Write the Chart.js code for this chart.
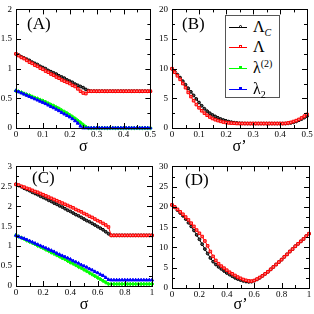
<!DOCTYPE html>
<html>
<head>
<meta charset="utf-8">
<title>Lambda vs sigma</title>
<script src="https://cdn.jsdelivr.net/npm/chart.js@4.4.1/dist/chart.umd.min.js"></script>
<style>
    html, body { margin: 0; padding: 0; background: #fff; }
    #wrap { position: relative; width: 314px; height: 314px; overflow: hidden; font-family: 'Liberation Serif', 'Times New Roman', serif; color: #000; }
    #wrap canvas { position: absolute; }
    .tag { position: absolute; font-size: 17px; line-height: 17px; }
    #legend { position: absolute; left: 225px; top: 15px; width: 53px; height: 81px; border: 1px solid #555; background: #fff; }
    .row { position: absolute; left: 0; width: 53px; height: 20px; }
    .ln { position: absolute; left: 3px; top: 10px; width: 18px; height: 1px; }
    .mk { position: absolute; left: 13px; top: 8px; width: 3px; height: 3px; box-sizing: border-box; }
    .tx { position: absolute; left: 27px; top: 0; font-size: 16px; line-height: 20px; white-space: nowrap; }
    .tx sub, .tx sup { font-size: 10px; line-height: 0; }
</style>
</head>
<body>
<div id="wrap">
    <canvas id="chartA" width="157" height="157" style="left:0;top:0"></canvas>
    <canvas id="chartB" width="157" height="157" style="left:157px;top:0"></canvas>
    <canvas id="chartC" width="157" height="157" style="left:0;top:157px"></canvas>
    <canvas id="chartD" width="157" height="157" style="left:157px;top:157px"></canvas>

    <div class="tag" style="left:27px;top:15px">(A)</div>
    <div class="tag" style="left:182px;top:15px">(B)</div>
    <div class="tag" style="left:32px;top:169px">(C)</div>
    <div class="tag" style="left:185px;top:171px">(D)</div>

    <div id="legend">
        <div class="row" style="top:1px"><span class="ln" style="background:#000"></span><span class="mk" style="border:1px solid #000;border-radius:50%;background:#fff"></span><span class="tx">Λ<sub><i>C</i></sub></span></div>
        <div class="row" style="top:21px"><span class="ln" style="background:#f00"></span><span class="mk" style="border:1px solid #f00;background:#fff"></span><span class="tx">Λ</span></div>
        <div class="row" style="top:42px"><span class="ln" style="background:#0f0"></span><span class="mk" style="background:#0f0"></span><span class="tx">λ<sup>(2)</sup></span></div>
        <div class="row" style="top:63px"><span class="ln" style="background:#00f"></span><span class="mk" style="background:#00f"></span><span class="tx">λ<sub>2</sub></span></div>
    </div>
</div>

<script>
// sigma grids
const sigmaHalf = [0, 0.01, 0.02, 0.03, 0.04, 0.05, 0.06, 0.07, 0.08, 0.09, 0.1,
    0.11, 0.12, 0.13, 0.14, 0.15, 0.16, 0.17, 0.18, 0.19, 0.2,
    0.21, 0.22, 0.23, 0.24, 0.25, 0.26, 0.27, 0.28, 0.29, 0.3,
    0.31, 0.32, 0.33, 0.34, 0.35, 0.36, 0.37, 0.38, 0.39, 0.4,
    0.41, 0.42, 0.43, 0.44, 0.45, 0.46, 0.47, 0.48, 0.49, 0.5];
const sigmaFull = [0, 0.02, 0.04, 0.06, 0.08, 0.1, 0.12, 0.14, 0.16, 0.18, 0.2,
    0.22, 0.24, 0.26, 0.28, 0.3, 0.32, 0.34, 0.36, 0.38, 0.4,
    0.42, 0.44, 0.46, 0.48, 0.5, 0.52, 0.54, 0.56, 0.58, 0.6,
    0.62, 0.64, 0.66, 0.68, 0.7, 0.72, 0.74, 0.76, 0.78, 0.8,
    0.82, 0.84, 0.86, 0.88, 0.9, 0.92, 0.94, 0.96, 0.98, 1];

// (A)
const aLambdaC = [1.25, 1.23, 1.2, 1.18, 1.16, 1.14, 1.11, 1.09, 1.07, 1.04, 1.02,
    1.0, 0.97, 0.95, 0.93, 0.91, 0.88, 0.86, 0.84, 0.81, 0.79,
    0.77, 0.74, 0.72, 0.7, 0.68, 0.65, 0.63, 0.62, 0.62, 0.62,
    0.62, 0.62, 0.62, 0.62, 0.62, 0.62, 0.62, 0.62, 0.62, 0.62,
    0.62, 0.62, 0.62, 0.62, 0.62, 0.62, 0.62, 0.62, 0.62, 0.62];
const aLambda = [1.25, 1.22, 1.19, 1.17, 1.14, 1.11, 1.09, 1.06, 1.04, 1.01, 0.99,
    0.96, 0.94, 0.91, 0.89, 0.86, 0.84, 0.81, 0.79, 0.77, 0.75,
    0.72, 0.7, 0.66, 0.62, 0.59, 0.58, 0.62, 0.62, 0.62, 0.62,
    0.62, 0.62, 0.62, 0.62, 0.62, 0.62, 0.62, 0.62, 0.62, 0.62,
    0.62, 0.62, 0.62, 0.62, 0.62, 0.62, 0.62, 0.62, 0.62, 0.62];
const aLambda2nd = [0.63, 0.615, 0.6, 0.58, 0.565, 0.55, 0.53, 0.51, 0.495, 0.475, 0.46,
    0.44, 0.415, 0.395, 0.375, 0.35, 0.33, 0.3, 0.275, 0.25, 0.22,
    0.19, 0.16, 0.125, 0.09, 0.055, 0.02, 0, 0, 0, 0,
    0, 0, 0, 0, 0, 0, 0, 0, 0, 0,
    0, 0, 0, 0, 0, 0, 0, 0, 0, 0];
const aLambdaTwo = [0.63, 0.61, 0.59, 0.57, 0.55, 0.53, 0.51, 0.49, 0.47, 0.45, 0.43,
    0.41, 0.385, 0.36, 0.34, 0.315, 0.29, 0.26, 0.235, 0.21, 0.185,
    0.155, 0.12, 0.08, 0.03, 0, 0, 0, 0, 0, 0,
    0, 0, 0, 0, 0, 0, 0, 0, 0, 0,
    0, 0, 0, 0, 0, 0, 0, 0, 0, 0];

// (B)
const bLambdaC = [10, 9.5, 9.0, 8.5, 7.9, 7.3, 6.7, 6.1, 5.5, 4.9, 4.3,
    3.75, 3.25, 2.85, 2.5, 2.2, 1.95, 1.72, 1.52, 1.35, 1.2,
    1.08, 0.98, 0.9, 0.85, 0.8, 0.78, 0.76, 0.75, 0.75, 0.75,
    0.75, 0.75, 0.75, 0.75, 0.75, 0.75, 0.75, 0.75, 0.75, 0.75,
    0.75, 0.75, 0.78, 0.85, 0.95, 1.1, 1.3, 1.5, 1.75, 2.0];
const bLambda = [10, 9.4, 8.8, 8.2, 7.5, 6.8, 6.0, 5.3, 4.6, 3.95, 3.4,
    2.9, 2.5, 2.15, 1.85, 1.6, 1.4, 1.25, 1.12, 1.0, 0.92,
    0.86, 0.82, 0.8, 0.76, 0.76, 0.76, 0.76, 0.76, 0.76, 0.76,
    0.76, 0.76, 0.76, 0.76, 0.76, 0.76, 0.76, 0.76, 0.76, 0.76,
    0.76, 0.78, 0.85, 0.95, 1.1, 1.25, 1.45, 1.7, 2.0, 2.3];

// (C)
const cLambdaC = [2.55, 2.52, 2.49, 2.45, 2.42, 2.39, 2.35, 2.32, 2.29, 2.25, 2.22,
    2.19, 2.15, 2.12, 2.08, 2.05, 2.01, 1.98, 1.94, 1.9, 1.87,
    1.83, 1.79, 1.76, 1.72, 1.68, 1.64, 1.61, 1.57, 1.53, 1.49,
    1.45, 1.41, 1.36, 1.31, 1.27, 1.27, 1.27, 1.27, 1.27, 1.27,
    1.27, 1.27, 1.27, 1.27, 1.27, 1.27, 1.27, 1.27, 1.27, 1.27];
const cLambda = [2.55, 2.53, 2.5, 2.48, 2.45, 2.43, 2.4, 2.37, 2.35, 2.32, 2.29,
    2.26, 2.23, 2.2, 2.17, 2.14, 2.11, 2.08, 2.05, 2.02, 1.99,
    1.96, 1.92, 1.89, 1.86, 1.82, 1.79, 1.75, 1.72, 1.68, 1.64,
    1.61, 1.57, 1.53, 1.48, 1.27, 1.27, 1.27, 1.27, 1.27, 1.27,
    1.27, 1.27, 1.27, 1.27, 1.27, 1.27, 1.27, 1.27, 1.27, 1.27];
const cLambda2nd = [1.27, 1.24, 1.21, 1.18, 1.14, 1.11, 1.08, 1.05, 1.01, 0.98, 0.95,
    0.91, 0.88, 0.84, 0.81, 0.77, 0.74, 0.7, 0.67, 0.63, 0.59,
    0.56, 0.52, 0.48, 0.45, 0.41, 0.37, 0.33, 0.29, 0.25, 0.21,
    0.17, 0.13, 0.09, 0.05, 0.05, 0.05, 0.05, 0.05, 0.05, 0.05,
    0.05, 0.05, 0.05, 0.05, 0.05, 0.05, 0.05, 0.05, 0.05, 0.05];
const cLambdaTwo = [1.27, 1.24, 1.21, 1.19, 1.16, 1.13, 1.1, 1.07, 1.04, 1.01, 0.98,
    0.95, 0.92, 0.89, 0.86, 0.82, 0.79, 0.76, 0.73, 0.7, 0.67,
    0.63, 0.6, 0.57, 0.53, 0.5, 0.47, 0.43, 0.4, 0.36, 0.33,
    0.29, 0.26, 0.21, 0.16, 0.15, 0.15, 0.15, 0.15, 0.15, 0.15,
    0.15, 0.15, 0.15, 0.15, 0.15, 0.15, 0.15, 0.15, 0.15, 0.15];

// (D)
const dLambdaC = [20.5, 19.9, 19.2, 18.5, 17.8, 17.0, 16.1, 15.2, 14.2, 13.1, 12.0,
    10.8, 9.6, 8.5, 7.4, 6.5, 5.8, 5.2, 4.7, 4.2, 3.7,
    3.3, 2.9, 2.5, 2.2, 1.95, 1.75, 1.6, 1.5, 1.55, 1.8,
    2.1, 2.5, 3.0, 3.5, 4.0, 4.6, 5.2, 5.8, 6.4, 7.0,
    7.7, 8.3, 9.0, 9.6, 10.3, 10.9, 11.5, 12.1, 12.8, 13.4];
const dLambda = [20.5, 20.0, 19.4, 18.8, 18.2, 17.5, 16.8, 16.0, 15.2, 14.3, 13.5,
    12.7, 11.6, 10.4, 9.0, 7.8, 6.8, 6.0, 5.4, 4.9, 4.4,
    3.9, 3.5, 3.1, 2.7, 2.4, 2.1, 1.9, 1.75, 1.7, 1.85,
    2.2, 2.6, 3.0, 3.5, 4.0, 4.6, 5.2, 5.8, 6.4, 7.0,
    7.7, 8.3, 9.0, 9.6, 10.3, 10.9, 11.5, 12.1, 12.8, 13.4];

const FONT = "'Liberation Serif', 'Times New Roman', serif";

// Inward ticks on all four sides plus the frame, grace style
const frameTicks = {
    id: 'frameTicks',
    afterDatasetsDraw(chart) {
        const { ctx, chartArea: a } = chart;
        const sx = chart.scales.x, sy = chart.scales.y;
        ctx.save();
        ctx.strokeStyle = '#000';
        ctx.lineWidth = 1;
        ctx.beginPath();

        const xv = sx.ticks.map(t => t.value);
        xv.forEach((v, i) => {
            const p = Math.round(sx.getPixelForValue(v)) + 0.5;
            ctx.moveTo(p, a.bottom); ctx.lineTo(p, a.bottom - 5);
            ctx.moveTo(p, a.top); ctx.lineTo(p, a.top + 5);
            if (i < xv.length - 1) {
                const m = Math.round(sx.getPixelForValue((v + xv[i + 1]) / 2)) + 0.5;
                ctx.moveTo(m, a.bottom); ctx.lineTo(m, a.bottom - 3);
                ctx.moveTo(m, a.top); ctx.lineTo(m, a.top + 3);
            }
        });

        const yv = sy.ticks.map(t => t.value);
        yv.forEach((v, i) => {
            const p = Math.round(sy.getPixelForValue(v)) + 0.5;
            ctx.moveTo(a.left, p); ctx.lineTo(a.left + 5, p);
            ctx.moveTo(a.right, p); ctx.lineTo(a.right - 5, p);
            if (i < yv.length - 1) {
                const m = Math.round(sy.getPixelForValue((v + yv[i + 1]) / 2)) + 0.5;
                ctx.moveTo(a.left, m); ctx.lineTo(a.left + 3, m);
                ctx.moveTo(a.right, m); ctx.lineTo(a.right - 3, m);
            }
        });
        ctx.stroke();

        ctx.strokeRect(Math.round(a.left) + 0.5, Math.round(a.top) + 0.5,
            Math.round(a.right - a.left), Math.round(a.bottom - a.top));
        ctx.restore();
    }
};

// 2 -> "2", 0.5 -> "0.5", 1 -> "1"
const plainNumber = v => String(Number(Number(v).toFixed(2)));

function toPoints(xs, ys) {
    return xs.map((x, i) => ({ x: x, y: ys[i] }));
}

function lineSet(label, xs, ys, color, fill, style, radius, order) {
    return {
        label: label,
        data: toPoints(xs, ys),
        borderColor: color,
        backgroundColor: fill,
        borderWidth: 1,
        pointStyle: style,
        pointRadius: radius,
        pointBorderWidth: 1,
        pointBorderColor: color,
        pointBackgroundColor: fill,
        order: order,
        clip: false
    };
}

const blackSet = (xs, ys) => lineSet('ΛC', xs, ys, '#000000', '#555555', 'circle', 1.4, 4);
const redSet = (xs, ys) => lineSet('Λ', xs, ys, '#ff0000', '#ff8080', 'rect', 1.8, 3);
const greenSet = (xs, ys) => lineSet('λ(2)', xs, ys, '#00ff00', '#00ff00', 'rectRot', 1.8, 2);
const blueSet = (xs, ys) => lineSet('λ2', xs, ys, '#0000ff', '#0000ff', 'triangle', 1.8, 1);

function makePanel(id, p) {
    return new Chart(document.getElementById(id), {
        type: 'line',
        data: { datasets: p.datasets },
        plugins: [frameTicks],
        options: {
            responsive: false,
            animation: false,
            events: [],
            devicePixelRatio: 1,
            layout: { padding: { left: 0, top: p.top, right: p.right, bottom: 0 } },
            plugins: { legend: { display: false }, tooltip: { enabled: false } },
            scales: {
                x: {
                    type: 'linear',
                    min: 0,
                    max: p.xMax,
                    grid: { display: false, drawTicks: false },
                    border: { display: false },
                    ticks: { stepSize: p.xStep, autoSkip: false, maxRotation: 0, padding: 1, color: '#000', font: { family: FONT, size: 9 }, callback: plainNumber },
                    title: { display: true, text: p.title, color: '#000', font: { family: FONT, size: 16 }, padding: { top: 0, bottom: p.titlePad } },
                    afterFit: s => { s.height = p.xHeight; }
                },
                y: {
                    min: 0,
                    max: p.yMax,
                    grid: { display: false, drawTicks: false },
                    border: { display: false },
                    ticks: { stepSize: p.yStep, autoSkip: false, padding: 4, color: '#000', font: { family: FONT, size: 9 }, callback: plainNumber },
                    afterFit: s => { s.width = p.yWidth; }
                }
            }
        }
    });
}

makePanel('chartA', {
    datasets: [
        blackSet(sigmaHalf, aLambdaC),
        redSet(sigmaHalf, aLambda),
        greenSet(sigmaHalf, aLambda2nd),
        blueSet(sigmaHalf, aLambdaTwo)
    ],
    xMax: 0.5, xStep: 0.1, yMax: 2, yStep: 0.5,
    title: 'σ', titlePad: 1,
    top: 6, right: 5, yWidth: 16, xHeight: 29
});

makePanel('chartB', {
    datasets: [
        blackSet(sigmaHalf, bLambdaC),
        redSet(sigmaHalf, bLambda)
    ],
    xMax: 0.5, xStep: 0.1, yMax: 20, yStep: 5,
    title: 'σ’', titlePad: 1,
    top: 6, right: 7, yWidth: 15, xHeight: 29
});

makePanel('chartC', {
    datasets: [
        blackSet(sigmaFull, cLambdaC),
        redSet(sigmaFull, cLambda),
        greenSet(sigmaFull, cLambda2nd),
        blueSet(sigmaFull, cLambdaTwo)
    ],
    xMax: 1, xStep: 0.2, yMax: 3, yStep: 0.5,
    title: 'σ', titlePad: 0,
    top: 3, right: 5, yWidth: 16, xHeight: 28
});

makePanel('chartD', {
    datasets: [
        blackSet(sigmaFull, dLambdaC),
        redSet(sigmaFull, dLambda)
    ],
    xMax: 1, xStep: 0.2, yMax: 30, yStep: 5,
    title: 'σ’', titlePad: 0,
    top: 3, right: 5, yWidth: 15, xHeight: 26
});
</script>
</body>
</html>
